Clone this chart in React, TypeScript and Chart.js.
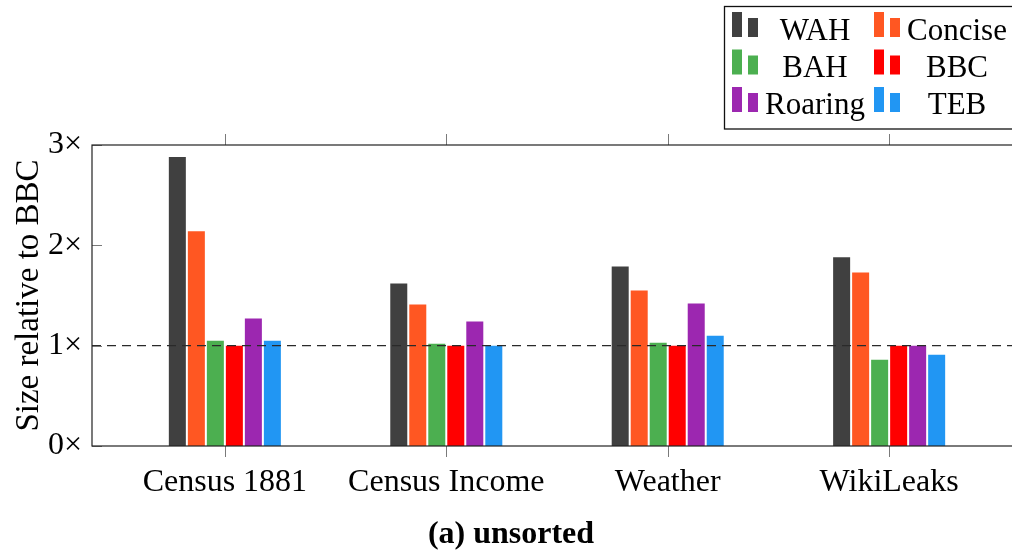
import React, { useEffect, useRef } from 'react';
import { Chart, registerables } from 'chart.js';
Chart.register(...registerables);

const categories = ['Census 1881', 'Census Income', 'Weather', 'WikiLeaks'];
const seriesNames = ['WAH', 'Concise', 'BAH', 'BBC', 'Roaring', 'TEB'];
const wah = [2.88, 1.62, 1.79, 1.88];
const concise = [2.14, 1.41, 1.55, 1.73];
const bah = [1.05, 1.02, 1.03, 0.86];
const bbc = [1.0, 1.0, 1.0, 1.0];
const roaring = [1.27, 1.24, 1.42, 1.0];
const teb = [1.05, 1.0, 1.1, 0.91];
const seriesColors = ['#404040', '#FF5722', '#4CAF50', '#FF0000', '#9C27B0', '#2196F3'];
const yTickValues = [0, 1, 2, 3];
const referenceLevel = 1;
const captionText = '(a) unsorted';
const yAxisTitle = 'Size relative to BBC';

const FONT = '"Liberation Serif", "Times New Roman", serif';
const TITLE_SIZE = 32;
const TITLE_LH = 1.1;

const frameAndLegend = {
  id: 'frameAndLegend',
  afterDatasetsDraw(chart: any) {
    const { ctx, chartArea: a, scales } = chart;
    const x = scales.x;
    const y = scales.y;
    ctx.save();
    // dashed reference line
    const yr = y.getPixelForValue(referenceLevel);
    ctx.strokeStyle = '#2a2a2a';
    ctx.lineWidth = 1.4;
    ctx.setLineDash([9, 6]);
    ctx.beginPath();
    ctx.moveTo(a.left, yr);
    ctx.lineTo(a.right, yr);
    ctx.stroke();
    ctx.setLineDash([]);
    // ticks
    ctx.strokeStyle = '#7a7a7a';
    ctx.lineWidth = 1;
    categories.forEach((_, i) => {
      const px = Math.round(x.getPixelForValue(i)) + 0.5;
      ctx.beginPath();
      ctx.moveTo(px, a.top - 11);
      ctx.lineTo(px, a.top);
      ctx.moveTo(px, a.bottom);
      ctx.lineTo(px, a.bottom + 11);
      ctx.stroke();
    });
    yTickValues.forEach((v) => {
      const py = Math.round(y.getPixelForValue(v)) + 0.5;
      ctx.beginPath();
      ctx.moveTo(a.left, py);
      ctx.lineTo(a.left + 10, py);
      ctx.moveTo(a.right - 10, py);
      ctx.lineTo(a.right, py);
      ctx.stroke();
    });
    // frame
    ctx.strokeStyle = '#222';
    ctx.lineWidth = 1.2;
    ctx.strokeRect(a.left, a.top, a.right - a.left, a.bottom - a.top);
    // legend
    ctx.strokeStyle = '#111';
    ctx.lineWidth = 1.3;
    ctx.strokeRect(724.5, 6.5, 320, 122.5);
    const iconX = [732, 874];
    const textX = [815, 957];
    ctx.font = `31px ${FONT}`;
    ctx.fillStyle = '#000';
    ctx.textAlign = 'center';
    ctx.textBaseline = 'alphabetic';
    chart.data.datasets.forEach((ds: any, i: number) => {
      const col = i % 2;
      const row = Math.floor(i / 2);
      const top = 12 + row * 37.5;
      const bottom = top + 25;
      ctx.fillStyle = ds.backgroundColor;
      ctx.fillRect(iconX[col], top, 10, bottom - top);
      ctx.fillRect(iconX[col] + 16, top + 6, 10, bottom - top - 6);
      ctx.fillStyle = '#000';
      ctx.fillText(ds.label, textX[col], 39.5 + row * 37);
    });
    ctx.restore();
  },
};

export default function App() {
  const ref = useRef<HTMLCanvasElement>(null);
  useEffect(() => {
    const canvas = ref.current!;
    const seriesValues = [wah, concise, bah, bbc, roaring, teb];
    const chart = new Chart(canvas, {
      type: 'bar',
      data: {
        datasets: seriesNames.map((name, si) => ({
          label: name,
          data: seriesValues[si].map((v, i) => ({ x: i, y: v })),
          backgroundColor: seriesColors[si],
          borderWidth: 0,
          categoryPercentage: 0.515,
          barPercentage: 0.895,
        })),
      },
      options: {
        responsive: false,
        animation: false,
        devicePixelRatio: 1,
        layout: { padding: { left: 0, right: 2, top: 145, bottom: 0 } },
        plugins: {
          legend: { display: false },
          tooltip: { enabled: false },
          title: {
            display: true,
            position: 'bottom',
            text: captionText,
            color: '#000',
            font: { family: FONT, size: TITLE_SIZE, weight: 'bold', lineHeight: TITLE_LH },
            padding: { top: 0, bottom: 0 },
          },
        },
        scales: {
          x: {
            type: 'linear',
            offset: false,
            min: -0.6,
            max: 3.6,
            grid: { display: false, drawTicks: false, offset: false },
            border: { display: false },
            afterBuildTicks: (s: any) => {
              s.ticks = categories.map((_, i) => ({ value: i }));
            },
            afterFit: (s: any) => {
              s.height = 552 - 446 - TITLE_SIZE * TITLE_LH;
            },
            ticks: {
              autoSkip: false,
              maxRotation: 0,
              padding: 17,
              color: '#000',
              font: { family: FONT, size: 32 },
              callback: (v: any) => categories[v] ?? '',
            },
          },
          y: {
            min: 0,
            max: 3,
            grid: { display: false, drawTicks: false },
            border: { display: false },
            afterBuildTicks: (s: any) => {
              s.ticks = yTickValues.map((v) => ({ value: v }));
            },
            afterFit: (s: any) => {
              s.width = 92;
            },
            ticks: {
              padding: 10,
              color: '#000',
              font: { family: FONT, size: 32 },
              callback: (v: any) => `${v}×`,
            },
            title: {
              display: true,
              text: yAxisTitle,
              color: '#000',
              font: { family: FONT, size: 33 },
              padding: { top: 10, bottom: 0 },
            },
          },
        },
      },
      plugins: [frameAndLegend],
    } as any);
    return () => chart.destroy();
  }, []);
  return (
    <div style={{ position: 'fixed', left: 0, top: 0, width: 1012, height: 552, overflow: 'hidden', background: '#fff' }}>
      <canvas ref={ref} width={1024} height={552} style={{ display: 'block' }} />
    </div>
  );
}
